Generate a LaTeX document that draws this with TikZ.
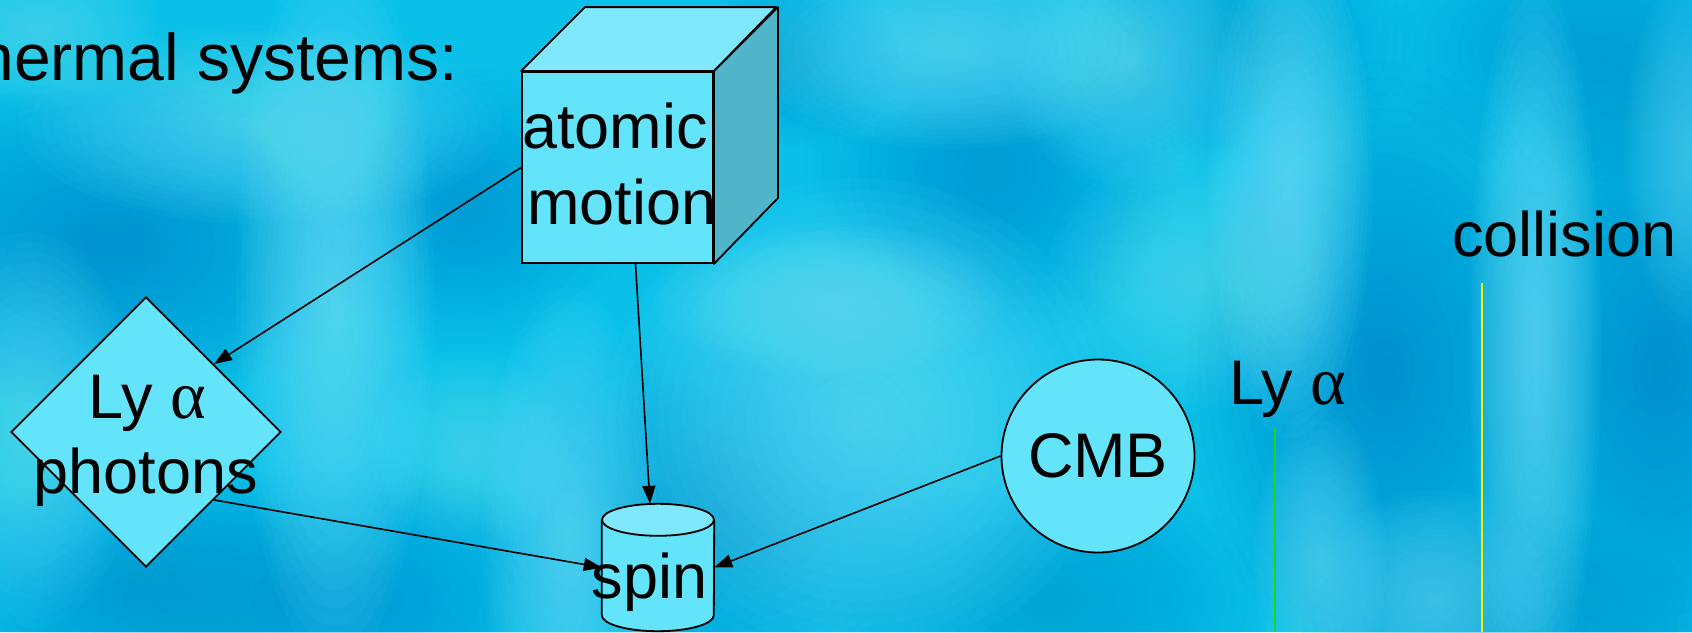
\documentclass[tikz,border=0pt]{standalone}
\usepackage{fontspec}
\setmainfont{Liberation Sans}
\newfontfamily\alphafont{Liberation Serif}
\usetikzlibrary{shapes.geometric,arrows.meta}

\definecolor{bgbase}{RGB}{10,192,232}
\definecolor{bgdark}{RGB}{0,125,200}
\definecolor{bglight}{RGB}{118,232,255}
\definecolor{nodefill}{RGB}{100,228,250}
\definecolor{cubetop}{RGB}{128,232,252}
\definecolor{cubeside}{RGB}{80,181,200}
\definecolor{lyline}{RGB}{20,220,20}
\definecolor{colline}{RGB}{240,240,0}

% soft patch of colour built from many faint nested ellipses:
% colour, x, y, x radius, y radius, strength
\newcommand\softpatch[6]{%
  \foreach \k in {1,...,20}{%
    \fill[#1, opacity={0.05*#6}] (#2,#3) ellipse [x radius={1.1*#4*\k/20}, y radius={1.1*#5*\k/20}];
  }%
}
\newcommand\greekalpha{{\alphafont\fontsize{68}{75}\selectfont α}}

\tikzset{
  shapebox/.style={draw=black, line width=1.8pt, fill=nodefill, inner sep=0pt},
  labeltext/.style={font=\fontsize{63}{75}\selectfont, inner sep=0pt, text=black},
  link/.style={draw=black, line width=1.6pt, -{Triangle[length=18pt,width=13pt]}},
  marker/.style={line width=2pt},
}

\begin{document}
\begin{tikzpicture}[x=1pt, y=-1pt]
\useasboundingbox (0,0) rectangle (1692,632);

% water-like background
\begin{scope}
\clip (0,0) rectangle (1692,632);
\fill[bgbase] (0,0) rectangle (1692,632);
% darker pools
\softpatch{bgdark}{110}{245}{240}{150}{0.75}
\softpatch{bgdark}{465}{210}{150}{130}{0.55}
\softpatch{bgdark}{720}{510}{220}{170}{0.55}
\softpatch{bgdark}{990}{170}{170}{170}{0.55}
\softpatch{bgdark}{1385}{370}{180}{280}{0.85}
\softpatch{bgdark}{1660}{370}{170}{300}{0.85}
\softpatch{bgdark}{340}{600}{230}{130}{0.55}
\softpatch{bgdark}{1600}{50}{200}{120}{0.45}
\softpatch{bgdark}{1240}{40}{160}{110}{0.4}
\softpatch{bgdark}{1050}{600}{200}{120}{0.4}
\softpatch{bgdark}{130}{590}{180}{110}{0.45}
\softpatch{bgdark}{1500}{620}{180}{100}{0.45}
\softpatch{bgdark}{800}{60}{90}{80}{0.4}
% lighter streaks
\softpatch{bglight}{335}{300}{90}{330}{1.1}
\softpatch{bglight}{260}{125}{220}{90}{0.9}
\softpatch{bglight}{570}{540}{80}{230}{1.05}
\softpatch{bglight}{860}{420}{230}{220}{1}
\softpatch{bglight}{830}{300}{160}{70}{0.9}
\softpatch{bglight}{950}{50}{190}{90}{0.95}
\softpatch{bglight}{1290}{185}{75}{230}{1.15}
\softpatch{bglight}{1130}{60}{110}{120}{0.8}
\softpatch{bglight}{1535}{340}{60}{330}{1.1}
\softpatch{bglight}{1435}{600}{110}{100}{0.8}
\softpatch{bglight}{30}{430}{100}{180}{0.9}
\softpatch{bglight}{470}{450}{90}{90}{0.7}
\softpatch{bglight}{1190}{280}{130}{120}{0.7}
\softpatch{bglight}{1320}{560}{60}{140}{0.75}
\softpatch{bglight}{40}{30}{110}{70}{0.7}
\softpatch{bglight}{1690}{150}{60}{160}{0.7}
\end{scope}

% title
\node[labeltext, font=\fontsize{66}{75}\selectfont, anchor=base east] (title) at (458,80) {hermal systems:};

% atomic motion block
\node[shapebox, minimum width=191, minimum height=191] (cube) at (617.5,167.5) {};
\draw[line width=1.8pt, fill=cubetop, line join=round]
  (cube.north west) -- ++(64,-64) -- ++(191,0) -- (cube.north east) -- cycle;
\draw[line width=1.8pt, fill=cubeside, line join=round]
  (cube.north east) -- ++(64,-64) -- ++(0,191) -- (cube.south east) -- cycle;
\node[labeltext, anchor=base] (atomic) at (615,148) {atomic};
\node[labeltext, anchor=base] (motion) at (622,224) {motion};

% Ly alpha photons
\node[shapebox, diamond, minimum width=270, minimum height=270] (lya) at (146,432) {};
\node[labeltext, anchor=base] (lyaA) at (147,418) {Ly \greekalpha};
\node[labeltext, anchor=base] (lyaB) at (146,493) {photons};

% CMB
\node[shapebox, circle, minimum size=193, labeltext] (cmb) at (1098,456) {CMB};

% spin cylinder
\node[inner sep=0pt, minimum width=112, minimum height=95] (spin) at (658,567.5) {};
\fill[nodefill] (spin.north west) -- (spin.south west)
  arc[start angle=180, end angle=0, x radius=56, y radius=16] -- (spin.north east) -- cycle;
\draw[line width=1.8pt] (spin.north west) -- (spin.south west)
  arc[start angle=180, end angle=0, x radius=56, y radius=16] -- (spin.north east);
\draw[line width=1.8pt, fill=cubetop] (spin.north) ellipse [x radius=56, y radius=16];
\node[labeltext, anchor=base] (spinlabel) at (649.5,598) {spin};

% connectors
\draw[link] (cube.west) -- (lya.45);
\draw[link] ([xshift=18pt]cube.south) -- ([xshift=-8pt,yshift=16pt]spin.north);
\draw[link] (lya.-45) -- (spin.west);
\draw[link] (cmb.west) -- (spin.east);

% right-hand labels and markers
\node[labeltext, anchor=base west] (lyb) at (1229,404) {Ly \greekalpha};
\coordinate (lytop) at (1275,427);
\coordinate (lybot) at (1275,632);
\draw[marker, lyline] (lytop) -- (lybot);

\node[labeltext, anchor=base west] (coll) at (1452,256) {collision};
\coordinate (coltop) at (1482,283);
\coordinate (colbot) at (1482,632);
\draw[marker, colline] (coltop) -- (colbot);
\end{tikzpicture}
\end{document}
